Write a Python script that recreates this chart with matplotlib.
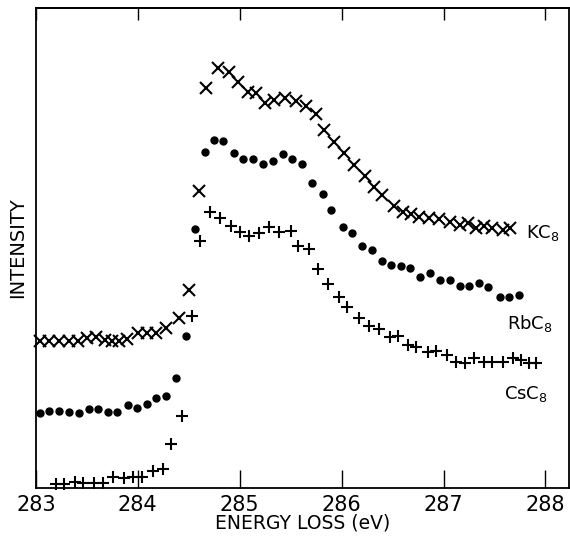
import matplotlib
matplotlib.use("Agg")
import matplotlib.pyplot as plt

# energies in eV, intensities in arbitrary units
kc8_e = [283.04, 283.13, 283.23, 283.32, 283.41, 283.50, 283.59, 283.68, 283.75, 283.82,
         283.89, 284.00, 284.09, 284.18, 284.28, 284.40, 284.50, 284.60, 284.67, 284.79,
         284.89, 284.98, 285.08, 285.16, 285.25, 285.34, 285.44, 285.55, 285.65, 285.75,
         285.83, 285.93, 286.02, 286.12, 286.23, 286.32, 286.40, 286.51, 286.60, 286.68,
         286.76, 286.86, 286.96, 287.06, 287.16, 287.24, 287.32, 287.40, 287.48, 287.58,
         287.65]
kc8_i = [147, 147, 147, 147, 147, 150, 151, 148, 147, 147,
         149, 155, 155, 155, 160, 170, 198, 297, 400, 420,
         416, 406, 396, 395, 385, 388, 390, 387, 382, 374,
         358, 346, 335, 323, 312, 301, 293, 282, 276, 274,
         271, 270, 269, 266, 263, 265, 260, 262, 260, 258,
         260]

rbc8_e = [283.04, 283.13, 283.23, 283.32, 283.42, 283.52, 283.61, 283.71, 283.80, 283.90,
          283.99, 284.09, 284.18, 284.28, 284.37, 284.47, 284.56, 284.66, 284.75, 284.84,
          284.94, 285.03, 285.13, 285.23, 285.33, 285.42, 285.51, 285.61, 285.71, 285.82,
          285.90, 286.01, 286.10, 286.20, 286.30, 286.40, 286.48, 286.58, 286.67, 286.77,
          286.87, 286.97, 287.06, 287.16, 287.25, 287.35, 287.44, 287.55, 287.64, 287.74]
rbc8_i = [75, 77, 77, 76, 75, 79, 79, 76, 76, 83,
          80, 84, 90, 92, 110, 152, 259, 336, 348, 347,
          335, 329, 329, 324, 327, 334, 329, 324, 305, 294,
          278, 261, 255, 242, 238, 227, 223, 222, 220, 211,
          215, 208, 208, 202, 202, 205, 201, 191, 191, 193]

csc8_e = [283.20, 283.28, 283.38, 283.46, 283.57, 283.66, 283.76, 283.86, 283.95, 284.04,
          284.15, 284.25, 284.33, 284.43, 284.53, 284.61, 284.71, 284.81, 284.91, 285.00,
          285.09, 285.19, 285.29, 285.39, 285.50, 285.57, 285.68, 285.77, 285.87, 285.97,
          286.05, 286.17, 286.27, 286.37, 286.47, 286.55, 286.65, 286.73, 286.85, 286.93,
          287.03, 287.12, 287.21, 287.30, 287.40, 287.48, 287.58, 287.68, 287.76, 287.84,
          287.91]
csc8_i = [4, 4, 6, 5, 5, 5, 11, 10, 11, 11,
          17, 19, 44, 72, 172, 247, 276, 270, 262, 256,
          252, 255, 261, 256, 257, 242, 239, 219, 204, 191,
          181, 170, 162, 159, 151, 152, 143, 141, 136, 137,
          133, 126, 125, 130, 126, 126, 126, 130, 128, 125,
          125]

fig = plt.figure(figsize=(5.7, 5.36), dpi=100)
ax = fig.add_axes([0.063, 0.0896, 0.935, 0.8955])

ax.plot(kc8_e, kc8_i, 'x', color='black', ms=9, mew=1.5, clip_on=False)
ax.plot(rbc8_e, rbc8_i, 'o', color='black', ms=5, clip_on=False)
ax.plot(csc8_e, csc8_i, '+', color='black', ms=9, mew=1.5, clip_on=False)

# series labels
ax.text(287.81, 255, 'KC$_8$', fontsize=13, va='center')
ax.text(287.62, 164, 'RbC$_8$', fontsize=13, va='center')
ax.text(287.59, 94, 'CsC$_8$', fontsize=13, va='center')

ax.set_xlim(283, 288.23)
ax.set_ylim(0, 480)
ax.set_xticks([283, 284, 285, 286, 287, 288])
ax.set_yticks([])
ax.tick_params(axis='x', direction='in', length=13, width=1, labelsize=15, pad=5)
for s in ax.spines.values():
    s.set_linewidth(1.3)

# shorter ticks along the top edge
top = ax.secondary_xaxis('top')
top.set_xticks([283, 284, 285, 286, 287, 288])
top.tick_params(direction='in', length=8.5, width=1, labeltop=False)
top.spines['top'].set_linewidth(1.3)

ax.set_xlabel('ENERGY LOSS (eV)', fontsize=13.5, labelpad=-1)
ax.set_ylabel('INTENSITY', fontsize=14, labelpad=6)

plt.savefig('out.png', dpi=100)
